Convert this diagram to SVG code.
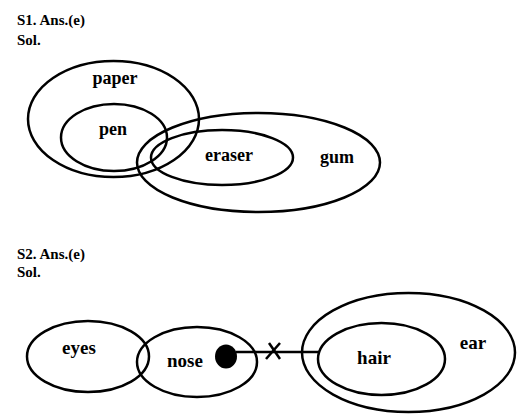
<svg xmlns="http://www.w3.org/2000/svg" width="530" height="417" viewBox="0 0 530 417">
<style>
.h{font-family:"Liberation Serif","DejaVu Serif",serif;font-weight:bold;font-size:15px;fill:#000}
.l{font-family:"Liberation Serif","DejaVu Serif",serif;font-weight:bold;font-size:18px;fill:#000;text-anchor:middle}
.e{fill:none;stroke:#000;stroke-width:2.5}
</style>
<rect width="530" height="417" fill="#fff"/>
<text class="h" x="17" y="25">S1. Ans.(e)</text>
<text class="h" x="17" y="45">Sol.</text>
<g id="paper"><ellipse class="e" cx="113.5" cy="119" rx="85.5" ry="58"/><text class="l" x="115" y="84">paper</text></g>
<g id="pen"><ellipse class="e" cx="114" cy="137.5" rx="53" ry="33.5"/><text class="l" x="113" y="135">pen</text></g>
<g id="gum"><ellipse class="e" cx="258.5" cy="162.5" rx="121.5" ry="49.5"/><text class="l" x="337" y="163">gum</text></g>
<g id="eraser"><ellipse class="e" cx="222" cy="157.5" rx="71" ry="27.5"/><text class="l" x="229" y="161">eraser</text></g>
<text class="h" x="17" y="259">S2. Ans.(e)</text>
<text class="h" x="17" y="277">Sol.</text>
<g id="eyes"><ellipse class="e" cx="88" cy="356.5" rx="61" ry="35.5"/><text class="l" x="79" y="354" style="font-size:19px">eyes</text></g>
<g id="nose"><ellipse class="e" cx="197" cy="362" rx="60" ry="35"/><text class="l" x="185" y="367" style="font-size:19px">nose</text></g>
<g id="ear"><ellipse class="e" cx="408.5" cy="352.5" rx="106.5" ry="59.5"/><text class="l" x="473" y="349" style="font-size:19px">ear</text></g>
<g id="hair"><ellipse class="e" cx="381.5" cy="359" rx="63.5" ry="36"/><text class="l" x="374" y="364" style="font-size:19px">hair</text></g>
<g id="connectors">
<ellipse cx="226" cy="356.5" rx="11" ry="12" fill="#000"/>
<line x1="236" y1="352" x2="319" y2="352" stroke="#000" stroke-width="2.5"/>
<line x1="269" y1="343" x2="280" y2="359" stroke="#000" stroke-width="2.5"/>
<line x1="280" y1="343" x2="266" y2="359" stroke="#000" stroke-width="2.5"/>
</g>
</svg>
